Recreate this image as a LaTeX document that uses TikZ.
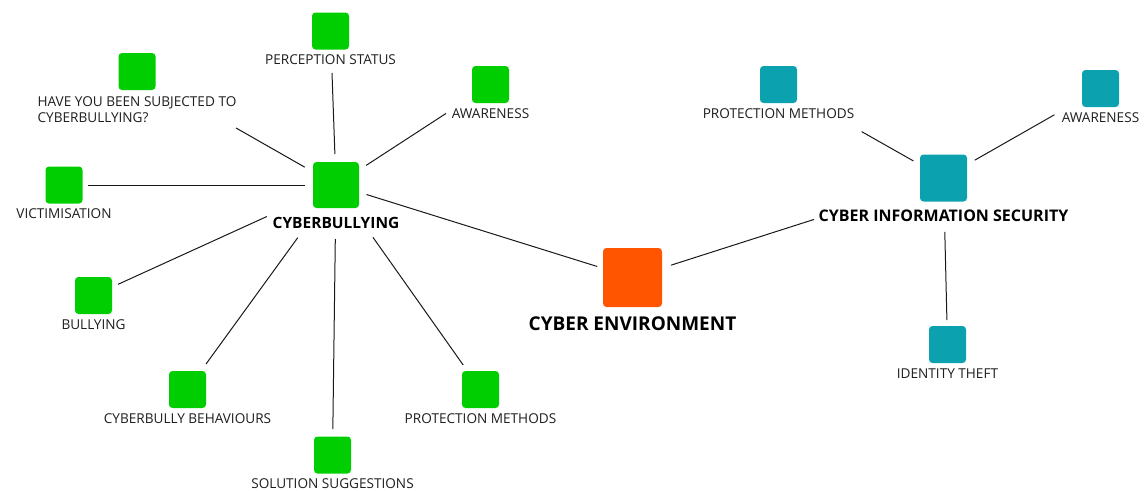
\documentclass[tikz,border=0pt]{standalone}
\usepackage{fontspec}
\setmainfont{Open Sans}
\usetikzlibrary{positioning}

\definecolor{leafgreen}{RGB}{0,206,0}
\definecolor{envorange}{RGB}{255,85,0}
\definecolor{secteal}{RGB}{12,161,174}
\definecolor{linkgray}{RGB}{25,25,25}
\definecolor{txtgray}{RGB}{30,30,30}

\begin{document}
\begin{tikzpicture}[x=1pt, y=-1pt,
  sq/.style={rounded corners=3.5pt, minimum size=37pt, inner sep=0pt},
  lbl/.style={font=\fontsize{13.6}{16}\selectfont, text=txtgray, inner sep=0pt},
  hublbl/.style={font=\fontsize{15.5}{18}\selectfont\bfseries, text=black, inner sep=0pt},
  link/.style={line width=1pt, draw=linkgray}]
  \useasboundingbox (0,0) rectangle (1145,490);

  % cyberbullying cluster
  \node[sq, fill=leafgreen, minimum size=46pt] (cb) at (336,185) {};
  \node[hublbl, below=9pt of cb] (cbT) {CYBERBULLYING};
  \node[sq, fill=leafgreen] (perc) at (330.5,31) {};
  \node[lbl, below=5pt of perc] (percT) {PERCEPTION STATUS};
  \node[sq, fill=leafgreen] (have) at (137,71.5) {};
  \node[lbl, below=6pt of have, align=left] (haveT) {HAVE YOU BEEN SUBJECTED TO\\CYBERBULLYING?};
  \node[sq, fill=leafgreen] (awg) at (490.5,84.5) {};
  \node[lbl, below=5pt of awg] (awgT) {AWARENESS};
  \node[sq, fill=leafgreen] (vict) at (64,185) {};
  \node[lbl, below=5pt of vict] (victT) {VICTIMISATION};
  \node[sq, fill=leafgreen] (bull) at (93.5,295.5) {};
  \node[lbl, below=5pt of bull] (bullT) {BULLYING};
  \node[sq, fill=leafgreen] (behav) at (187.5,389.5) {};
  \node[lbl, below=5pt of behav] (behavT) {CYBERBULLY BEHAVIOURS};
  \node[sq, fill=leafgreen] (sol) at (332.5,455) {};
  \node[lbl, below=5pt of sol] (solT) {SOLUTION SUGGESTIONS};
  \node[sq, fill=leafgreen] (protg) at (480.5,389.5) {};
  \node[lbl, below=5pt of protg] (protgT) {PROTECTION METHODS};

  % centre
  \node[sq, fill=envorange, minimum size=59pt] (env) at (632.5,277.5) {};
  \node[hublbl, font=\fontsize{19}{22}\selectfont\bfseries, below=9pt of env] (envT) {CYBER ENVIRONMENT};

  % information security cluster
  \node[sq, fill=secteal, minimum size=47pt] (cis) at (943.5,178) {};
  \node[hublbl, font=\fontsize{16}{19}\selectfont\bfseries, below=8pt of cis] (cisT) {CYBER INFORMATION SECURITY};
  \node[sq, fill=secteal] (prott) at (778.5,84.5) {};
  \node[lbl, below=5pt of prott] (prottT) {PROTECTION METHODS};
  \node[sq, fill=secteal] (awt) at (1100.5,88.5) {};
  \node[lbl, below=5pt of awt] (awtT) {AWARENESS};
  \node[sq, fill=secteal] (idt) at (947.5,344.5) {};
  \node[lbl, below=5pt of idt] (idtT) {IDENTITY THEFT};

  % links
  \draw[link, shorten <=42pt, shorten >=31pt] (perc.center) -- (cb.center);
  \draw[link, shorten <=114pt, shorten >=36pt] (have.center) -- (cb.center);
  \draw[link, shorten <=53pt, shorten >=36pt] (awg.center) -- (cb.center);
  \draw[link, shorten <=24pt, shorten >=31pt] (vict.center) -- (cb.center);
  \draw[link, shorten <=27pt, shorten >=76pt] (bull.center) -- (cb.center);
  \draw[link, shorten <=31.5pt, shorten >=65pt] (behav.center) -- (cb.center);
  \draw[link, shorten <=26pt, shorten >=54pt] (sol.center) -- (cb.center);
  \draw[link, shorten <=30pt, shorten >=64pt] (protg.center) -- (cb.center);
  \draw[link, shorten <=32pt, shorten >=37pt] (cb.center) -- (env.center);
  \draw[link, shorten <=40.5pt, shorten >=136pt] (env.center) -- (cis.center);
  \draw[link, shorten <=95.5pt, shorten >=34.5pt] (prott.center) -- (cis.center);
  \draw[link, shorten <=53pt, shorten >=36pt] (awt.center) -- (cis.center);
  \draw[link, shorten <=24.5pt, shorten >=54pt] (idt.center) -- (cis.center);
\end{tikzpicture}
\end{document}
